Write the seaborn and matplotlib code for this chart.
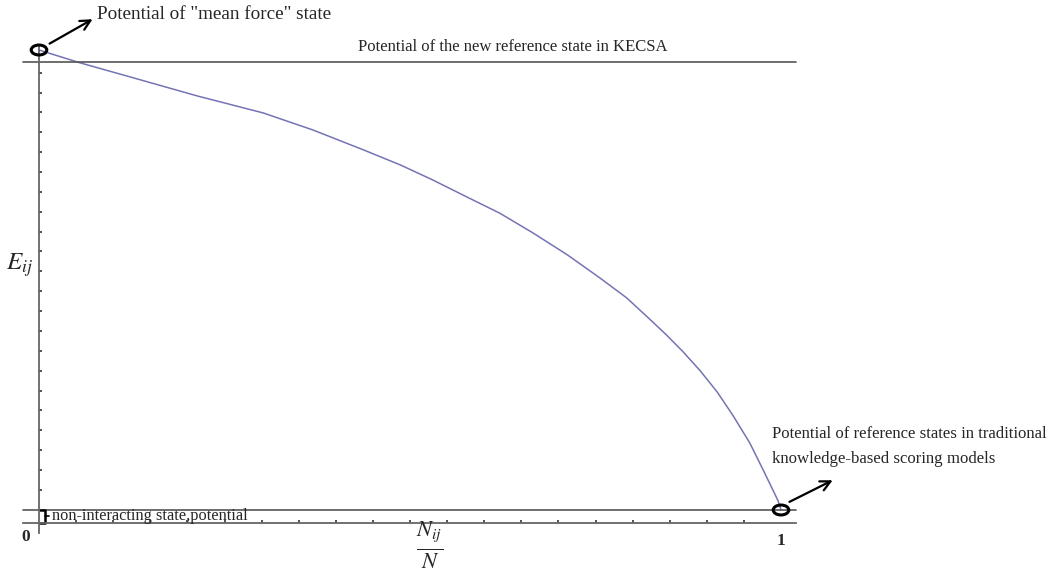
import numpy as np
import pandas as pd
import seaborn as sns
import matplotlib.pyplot as plt
from matplotlib.patches import Ellipse

# curve: fraction N_ij/N vs E_ij (arbitrary units)
frac = [0.0, 0.055, 0.123, 0.213, 0.302, 0.369, 0.437, 0.487, 0.531,
        0.577, 0.621, 0.666, 0.712, 0.756, 0.792, 0.823, 0.846, 0.868,
        0.891, 0.914, 0.935, 0.958, 0.976, 0.989, 0.996, 1.0]
energy = [1.0, 0.973, 0.943, 0.903, 0.867, 0.831, 0.789, 0.757, 0.725,
          0.689, 0.655, 0.613, 0.567, 0.518, 0.476, 0.431, 0.397, 0.362,
          0.322, 0.277, 0.228, 0.169, 0.112, 0.070, 0.047, 0.0275]

kecsa_ref = 0.975      # new reference state line
nonint_ref = 0.0275    # non-interacting state potential line

df = pd.DataFrame({"frac": frac, "E": energy})

sns.set_style("white")
plt.rcParams['font.family'] = ['Liberation Serif', 'DejaVu Serif']
plt.rcParams['mathtext.fontset'] = 'stix'

fig = plt.figure(figsize=(10.5, 5.85), dpi=100)
ax = fig.add_axes([0, 0, 1, 1])
ax.set_xlim(-39 / 742, (1050 - 39) / 742)
ax.set_ylim((523 - 585) / 473, 523 / 473)

sns.lineplot(data=df, x="frac", y="E", ax=ax, color="#7474b4", lw=1.1,
             sort=False, estimator=None)

# axes through the origin
for side in ["top", "right"]:
    ax.spines[side].set_visible(False)
ax.spines["left"].set_position(("data", 0))
ax.spines["bottom"].set_position(("data", 0))
ax.spines["left"].set_bounds(-0.021, 1.011)
ax.spines["bottom"].set_bounds(-0.022, 1.02)
for side in ["left", "bottom"]:
    ax.spines[side].set_color("#666666")
    ax.spines[side].set_linewidth(1.3)

ax.set_xticks(np.arange(0.05, 1.0, 0.05))
ax.set_yticks(np.arange(0.07, 0.96, 0.042))
ax.tick_params(axis="both", direction="in", length=2.5, width=1.2,
               color="#333333", labelbottom=False, labelleft=False)
ax.tick_params(axis="y", left=True)
ax.tick_params(axis="x", bottom=True)
ax.set_xlabel("")
ax.set_ylabel("")

# reference lines
ax.plot([-0.022, 1.02], [kecsa_ref, kecsa_ref], color="#555555", lw=1.2)
ax.plot([-0.022, 1.02], [nonint_ref, nonint_ref], color="#555555", lw=1.2)

# circles at the end points
for cx, cy in [(frac[0], energy[0]), (frac[-1], energy[-1])]:
    ax.add_patch(Ellipse((cx, cy), 0.021, 0.021, fill=False,
                         edgecolor="black", lw=2.2, zorder=5))

# arrows
arw = dict(arrowstyle="->", color="black", lw=1.6, mutation_scale=18)
ax.annotate("", xy=(0.0755, 1.068), xytext=(0.011, 1.0106), arrowprops=arw)
ax.annotate("", xy=(1.073, 0.093), xytext=(1.008, 0.042), arrowprops=arw)

ax.text(0.078, 1.075, 'Potential of "mean force" state', fontsize=13.8,
        va="center", ha="left")
ax.text(0.43, 0.99, "Potential of the new reference state in KECSA",
        fontsize=12, va="bottom", ha="left")
ax.text(0.988, 0.206,
        "Potential of reference states in traditional\nknowledge-based scoring models",
        fontsize=12.1, va="top", ha="left", linespacing=1.75)

# bracket for non-interacting state
bx = [0.002, 0.008, 0.008, 0.002]
by = [nonint_ref, nonint_ref, 0.0, 0.0]
ax.plot(bx, by, color="black", lw=1.8)
ax.plot([0.008, 0.013], [nonint_ref / 2, nonint_ref / 2], color="black", lw=1.2)
ax.text(0.017, nonint_ref / 2, "non-interacting state,potential", fontsize=11.8,
        va="center", ha="left")

# axis labels
ax.text(-0.012, -0.013, "0", fontsize=12.5, fontweight="bold", ha="right", va="top")
ax.text(1.0, -0.022, "1", fontsize=12.5, fontweight="bold", ha="center", va="top")
ax.text(-0.026, 0.545, r"$E_{ij}$", fontsize=18, ha="center", va="center")
ax.text(0.527, -0.048, r"$\frac{N_{ij}}{N}$", fontsize=23, ha="center", va="center")

fig.savefig("out.png", dpi=100)
